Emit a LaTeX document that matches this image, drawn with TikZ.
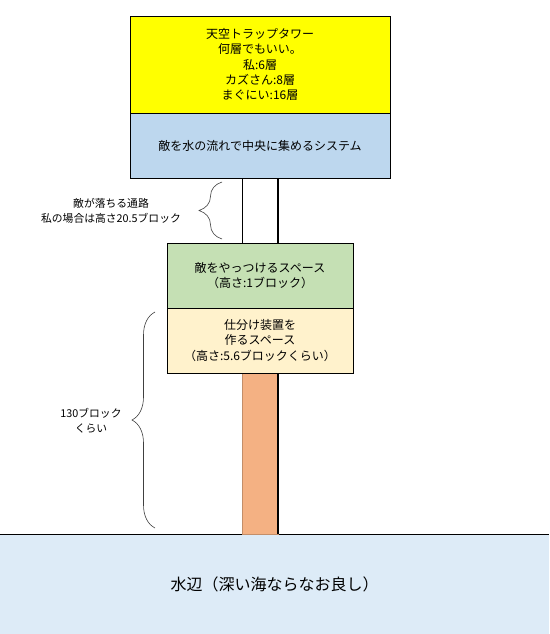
\documentclass[tikz,border=0pt]{standalone}
\usepackage{fontspec}
\setmainfont{Noto Sans CJK JP}
\usetikzlibrary{decorations.pathreplacing}
\definecolor{cyellow}{HTML}{FFFF00}
\definecolor{cblue}{HTML}{BDD7EE}
\definecolor{cgreen}{HTML}{C5E0B4}
\definecolor{ccream}{HTML}{FFF2CC}
\definecolor{corange}{HTML}{F4B183}
\definecolor{cwater}{HTML}{DDEBF7}
\tikzset{
  box/.style={draw=black, line width=0.8pt, inner sep=0pt, align=center,
    font=\fontsize{12}{15.3}\selectfont},
  lbl/.style={align=center, inner sep=0pt, font=\fontsize{10.8}{15}\selectfont},
  bracestyle/.style={draw=black!75, line width=0.6pt,
    decorate, decoration={brace, amplitude=23pt, aspect=0.5}},
  thinline/.style={draw=black, line width=0.8pt},
  thickline/.style={draw=black, line width=2pt}
}
\begin{document}
\begin{tikzpicture}[x=1pt,y=-1pt]
\useasboundingbox (0,0) rectangle (549,634);
% water
\node[fill=cwater, minimum width=549pt, minimum height=100pt, inner sep=0pt, anchor=north west,
  font=\fontsize{16}{18}\selectfont] (water) at (0,534) {水辺（深い海ならなお良し）};
\draw[thinline] (water.north west) -- (water.north east);
% orange column
\node[fill=corange, draw=corange!80!black, line width=0.4pt, minimum width=36pt, minimum height=161pt, inner sep=0pt, anchor=north west] (col) at (242,373) {};
% boxes
\node[box, fill=cyellow, minimum width=260pt, minimum height=97pt] (tower) at (260,64.5)
  {天空トラップタワー\\何層でもいい。\\私:6層\\カズさん:8層\\まぐにい:16層};
\node[box, fill=cblue, minimum width=260pt, minimum height=65pt] (sys) at (260,145.5)
  {敵を水の流れで中央に集めるシステム};
\node[box, fill=cgreen, minimum width=186pt, minimum height=65pt] (kill) at (260,275.5)
  {敵をやっつけるスペース\\（高さ:1ブロック）};
\node[box, fill=ccream, minimum width=186pt, minimum height=65pt] (sort) at (260,340.5)
  {仕分け装置を\\作るスペース\\（高さ:5.6ブロックくらい）};
% shaft lines
\coordinate (s1) at (242,178);
\coordinate (s2) at (278,178);
\coordinate (k1) at (242,243);
\coordinate (k2) at (278,243);
\coordinate (c2) at (278,373);
\coordinate (w2) at (278,534);
\draw[thinline] (s1) -- (k1);
\draw[thickline] (s2) -- (k2);
\draw[thickline] (c2) -- (w2);
% braces
\coordinate (b1t) at (222,182);
\coordinate (b1b) at (222,239);
\draw[bracestyle] (b1b) -- (b1t);
\node[lbl] (lbl1) at (111,211) {敵が落ちる通路\\私の場合は高さ20.5ブロック};
\coordinate (b2t) at (155,312);
\coordinate (b2b) at (155,528);
\draw[bracestyle] (b2b) -- (b2t);
\node[lbl] (lbl2) at (91,421) {130ブロック\\くらい};
\end{tikzpicture}
\end{document}
